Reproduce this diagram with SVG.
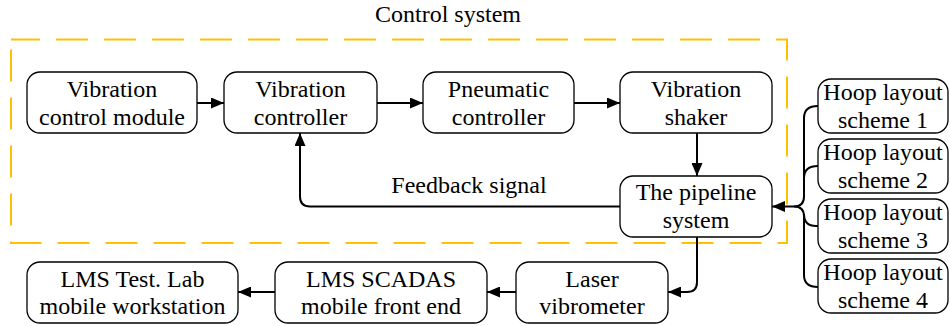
<svg xmlns="http://www.w3.org/2000/svg" width="950" height="326" viewBox="0 0 950 326">
<style>
.box{fill:#fff;stroke:#000;stroke-width:1.3}
.t{font-family:"Liberation Serif","Times New Roman",serif;font-size:24px;fill:#000;text-anchor:middle}
.c{fill:none;stroke:#000;stroke-width:2}
</style>
<defs>
<marker id="ah" markerUnits="userSpaceOnUse" markerWidth="13" markerHeight="11" refX="13" refY="5.5" orient="auto">
<path d="M0,0 L13,5.5 L0,11 z" fill="#000"/>
</marker>
</defs>
<rect x="0" y="0" width="950" height="326" fill="#fff"/>
<g id="control-system">
<rect x="11" y="39.5" width="776" height="203.5" fill="none" stroke="#FFC000" stroke-width="2" stroke-dasharray="32 16" stroke-dashoffset="3"/>
<text class="t" x="448" y="22">Control system</text>
</g>
<g id="connectors">
<line class="c" x1="197" y1="103" x2="224" y2="103" marker-end="url(#ah)"/>
<line class="c" x1="377" y1="103" x2="423" y2="103" marker-end="url(#ah)"/>
<line class="c" x1="574" y1="103" x2="620" y2="103" marker-end="url(#ah)"/>
<line class="c" x1="697" y1="133" x2="697" y2="176" marker-end="url(#ah)"/>
<path class="c" d="M620,206.5 H310 Q300,206.5 300,196.5 V133" marker-end="url(#ah)"/>
<text class="t" x="469" y="193">Feedback signal</text>
<path class="c" d="M697,237 V282 Q697,292 687,292 H668" marker-end="url(#ah)"/>
<line class="c" x1="516" y1="292" x2="487" y2="292" marker-end="url(#ah)"/>
<line class="c" x1="275" y1="292" x2="238" y2="292" marker-end="url(#ah)"/>
<path class="c" d="M818,106 Q804,106 804,118 V196.5 Q804,206.5 794,206.5 H772" marker-end="url(#ah)"/>
<path class="c" d="M818,287 Q804,287 804,275 V216.5 Q804,206.5 794,206.5"/>
<path class="c" d="M818,166 Q804,166 804,178"/>
<path class="c" d="M804,214 Q804,226 816,226 H818"/>
</g>
<g id="vibration-control-module">
<rect class="box" x="27" y="72" width="170" height="61" rx="13"/>
<text class="t" x="112" y="97">Vibration</text>
<text class="t" x="112" y="125">control module</text>
</g>
<g id="vibration-controller">
<rect class="box" x="224" y="72" width="153" height="61" rx="13"/>
<text class="t" x="300.5" y="97">Vibration</text>
<text class="t" x="300.5" y="125">controller</text>
</g>
<g id="pneumatic-controller">
<rect class="box" x="423" y="72" width="151" height="61" rx="13"/>
<text class="t" x="498.5" y="97">Pneumatic</text>
<text class="t" x="498.5" y="125">controller</text>
</g>
<g id="vibration-shaker">
<rect class="box" x="620" y="72" width="152" height="61" rx="13"/>
<text class="t" x="696" y="97">Vibration</text>
<text class="t" x="696" y="125">shaker</text>
</g>
<g id="pipeline-system">
<rect class="box" x="620" y="176" width="152" height="61" rx="13"/>
<text class="t" x="696" y="200">The pipeline</text>
<text class="t" x="696" y="228">system</text>
</g>
<g id="laser-vibrometer">
<rect class="box" x="516" y="262" width="152" height="61" rx="13"/>
<text class="t" x="592" y="287">Laser</text>
<text class="t" x="592" y="314">vibrometer</text>
</g>
<g id="lms-scadas">
<rect class="box" x="275" y="262" width="212" height="61" rx="13"/>
<text class="t" x="381" y="287">LMS SCADAS</text>
<text class="t" x="381" y="314">mobile front end</text>
</g>
<g id="lms-testlab">
<rect class="box" x="27" y="262" width="211" height="61" rx="13"/>
<text class="t" x="132.5" y="287">LMS Test. Lab</text>
<text class="t" x="132.5" y="314">mobile workstation</text>
</g>
<g id="hoop-1">
<rect class="box" x="818" y="79" width="130" height="54" rx="13"/>
<text class="t" x="883" y="100">Hoop layout</text>
<text class="t" x="883" y="128">scheme 1</text>
</g>
<g id="hoop-2">
<rect class="box" x="818" y="139" width="130" height="54" rx="13"/>
<text class="t" x="883" y="160">Hoop layout</text>
<text class="t" x="883" y="188">scheme 2</text>
</g>
<g id="hoop-3">
<rect class="box" x="818" y="199" width="130" height="54" rx="13"/>
<text class="t" x="883" y="220">Hoop layout</text>
<text class="t" x="883" y="248">scheme 3</text>
</g>
<g id="hoop-4">
<rect class="box" x="818" y="259" width="130" height="54" rx="13"/>
<text class="t" x="883" y="280">Hoop layout</text>
<text class="t" x="883" y="308">scheme 4</text>
</g>
</svg>
